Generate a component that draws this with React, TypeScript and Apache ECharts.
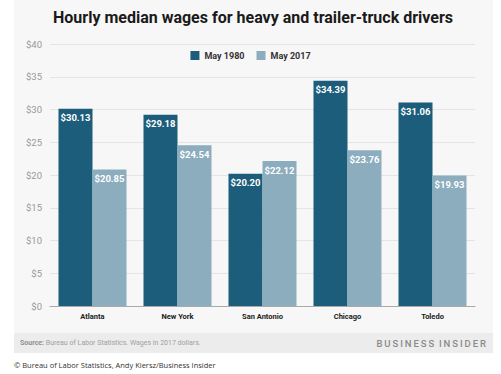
import React, { useEffect, useRef } from "react";
import * as echarts from "echarts";

const cities = ["Atlanta", "New York", "San Antonio", "Chicago", "Toledo"];
const may1980 = [30.13, 29.18, 20.2, 34.39, 31.06];
const may2017 = [20.85, 24.54, 22.12, 23.76, 19.93];
const seriesNames = ["May 1980", "May 2017"];
const yTicks = [0, 5, 10, 15, 20, 25, 30, 35, 40];

const FONT = "Roboto, 'Noto Sans', sans-serif";

export default function App() {
  const ref = useRef<HTMLDivElement>(null);
  useEffect(() => {
    if (!ref.current) return;
    const chart = echarts.init(ref.current, undefined, { renderer: "svg" });
    const labelCfg = {
      show: true,
      position: "insideTop" as const,
      distance: 4,
      color: "#ffffff",
      fontFamily: FONT,
      fontWeight: "bold" as const,
      fontSize: 9.5,
      formatter: (p: any) => "$" + Number(p.value).toFixed(2),
    };
    const brand = "BUSINESS INSIDER"
      .split(" ")
      .map((w) => w.split("").join("\u2009"))
      .join("  ");
    chart.setOption({
      animation: false,
      backgroundColor: "#ffffff",
      textStyle: { fontFamily: FONT },
      graphic: [
        {
          type: "rect",
          z: -10,
          silent: true,
          shape: { x: 14, y: 0, width: 479, height: 333 },
          style: { fill: "#f7f7f7" },
        },
        {
          type: "rect",
          z: -10,
          silent: true,
          shape: { x: 14, y: 333, width: 479, height: 20 },
          style: { fill: "#ececec" },
        },
        {
          type: "text",
          x: 253,
          y: 17,
          style: {
            text: "Hourly median wages for heavy and trailer-truck drivers",
            fontFamily: FONT,
            fontWeight: "bold",
            fontSize: 16,
            fill: "#1a1a1a",
            align: "center",
            verticalAlign: "middle",
          },
        },
        {
          type: "text",
          x: 20,
          y: 343,
          style: {
            text: "{b|Source:} Bureau of Labor Statistics. Wages in 2017 dollars.",
            fontFamily: FONT,
            fontSize: 7,
            fill: "#a0a0a0",
            verticalAlign: "middle",
            rich: {
              b: { fontWeight: "bold", fontSize: 7, fill: "#909090", fontFamily: FONT },
            },
          },
        },
        {
          type: "text",
          x: 486,
          y: 343,
          style: {
            text: brand,
            fontFamily: FONT,
            fontSize: 9.5,
            fontWeight: 500,
            fill: "#8a8a8a",
            align: "right",
            verticalAlign: "middle",
          },
        },
        {
          type: "text",
          x: 14,
          y: 365,
          style: {
            text: "© Bureau of Labor Statistics, Andy Kiersz/Business Insider",
            fontFamily: "'Open Sans', 'Noto Sans', sans-serif",
            fontSize: 7.5,
            fill: "#333333",
            verticalAlign: "middle",
          },
        },
      ],
      legend: {
        data: seriesNames,
        top: 46,
        left: "center",
        itemWidth: 9,
        itemHeight: 9,
        itemGap: 12,
        icon: "rect",
        textStyle: { fontFamily: FONT, fontWeight: "bold", fontSize: 9, color: "#333" },
      },
      grid: { left: 50, right: 26, top: 44, bottom: 68 },
      xAxis: {
        type: "category",
        data: cities,
        axisTick: { show: false },
        axisLine: { lineStyle: { color: "#aaaaaa", width: 1 } },
        axisLabel: {
          fontFamily: FONT,
          fontWeight: "bold",
          fontSize: 7.5,
          color: "#222",
          margin: 6,
        },
      },
      yAxis: {
        type: "value",
        min: yTicks[0],
        max: yTicks[yTicks.length - 1],
        interval: 5,
        axisLine: { show: false },
        axisTick: { show: false },
        splitLine: { lineStyle: { color: "#e4e4e4", width: 1 } },
        axisLabel: {
          fontFamily: FONT,
          fontSize: 9.5,
          color: "#999",
          margin: 8,
          formatter: (v: number) => "$" + v,
        },
      },
      series: [
        {
          name: seriesNames[0],
          type: "bar",
          data: may1980,
          barGap: "0%",
          barCategoryGap: "20%",
          itemStyle: { color: "#1b5d7a" },
          label: labelCfg,
        },
        {
          name: seriesNames[1],
          type: "bar",
          data: may2017,
          barGap: "0%",
          barCategoryGap: "20%",
          itemStyle: { color: "#8badbd" },
          label: labelCfg,
        },
      ],
    });
    return () => chart.dispose();
  }, []);
  return (
    <div
      ref={ref}
      style={{ position: "fixed", left: 0, top: 0, width: 501, height: 374 }}
    />
  );
}
